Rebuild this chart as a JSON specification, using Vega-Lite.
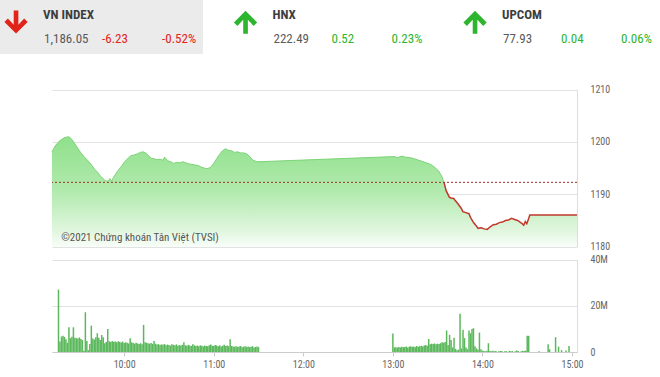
{
  "$schema": "https://vega.github.io/schema/vega-lite/v6.json",
  "width": 525,
  "height": 377,
  "autosize": "none",
  "padding": {"left": 52, "right": 83, "top": 0, "bottom": 0},
  "background": "white",
  "config": {"view": {"stroke": null}, "font": "Roboto Condensed, Liberation Sans Narrow, DejaVu Sans Condensed, Roboto"},
  "datasets": {
    "header": [
      {"market": "VN INDEX", "value": "1,186.05", "change": "-6.23", "pct": "-0.52%", "dir": "down"},
      {"market": "HNX", "value": "222.49", "change": "0.52", "pct": "0.23%", "dir": "up"},
      {"market": "UPCOM", "value": "77.93", "change": "0.04", "pct": "0.06%", "dir": "up"}
    ],
    "note": [{"text": "©2021 Chứng khoán Tân Việt (TVSI)", "minute": 561, "price": 1181.6}],
    "reference": [{"ref": 1192.28}],
    "price": [
      {"minute": 555, "price": 1198.1, "seg": "up"},
      {"minute": 557, "price": 1199.2, "seg": "up"},
      {"minute": 560, "price": 1200.2, "seg": "up"},
      {"minute": 563, "price": 1200.8, "seg": "up"},
      {"minute": 566, "price": 1201.0, "seg": "up"},
      {"minute": 568, "price": 1200.5, "seg": "up"},
      {"minute": 571, "price": 1199.2, "seg": "up"},
      {"minute": 574, "price": 1197.9, "seg": "up"},
      {"minute": 576, "price": 1197.2, "seg": "up"},
      {"minute": 579, "price": 1196.3, "seg": "up"},
      {"minute": 581, "price": 1195.6, "seg": "up"},
      {"minute": 583, "price": 1194.8, "seg": "up"},
      {"minute": 585, "price": 1194.2, "seg": "up"},
      {"minute": 587, "price": 1193.4, "seg": "up"},
      {"minute": 589, "price": 1192.9, "seg": "up"},
      {"minute": 590, "price": 1192.6, "seg": "up"},
      {"minute": 592, "price": 1192.5, "seg": "up"},
      {"minute": 593, "price": 1193.0, "seg": "up"},
      {"minute": 594, "price": 1192.5, "seg": "up"},
      {"minute": 596, "price": 1193.5, "seg": "up"},
      {"minute": 598, "price": 1194.4, "seg": "up"},
      {"minute": 600, "price": 1195.1, "seg": "up"},
      {"minute": 601, "price": 1195.5, "seg": "up"},
      {"minute": 603, "price": 1196.3, "seg": "up"},
      {"minute": 605, "price": 1196.9, "seg": "up"},
      {"minute": 607, "price": 1197.4, "seg": "up"},
      {"minute": 609, "price": 1197.5, "seg": "up"},
      {"minute": 611, "price": 1197.7, "seg": "up"},
      {"minute": 613, "price": 1198.0, "seg": "up"},
      {"minute": 615, "price": 1198.1, "seg": "up"},
      {"minute": 617, "price": 1197.8, "seg": "up"},
      {"minute": 618, "price": 1197.5, "seg": "up"},
      {"minute": 620, "price": 1196.9, "seg": "up"},
      {"minute": 622, "price": 1196.8, "seg": "up"},
      {"minute": 624, "price": 1196.6, "seg": "up"},
      {"minute": 626, "price": 1196.7, "seg": "up"},
      {"minute": 628, "price": 1196.5, "seg": "up"},
      {"minute": 629, "price": 1197.1, "seg": "up"},
      {"minute": 631, "price": 1196.4, "seg": "up"},
      {"minute": 633, "price": 1196.2, "seg": "up"},
      {"minute": 635, "price": 1195.9, "seg": "up"},
      {"minute": 637, "price": 1196.1, "seg": "up"},
      {"minute": 639, "price": 1196.0, "seg": "up"},
      {"minute": 641, "price": 1196.2, "seg": "up"},
      {"minute": 643, "price": 1196.0, "seg": "up"},
      {"minute": 645, "price": 1195.8, "seg": "up"},
      {"minute": 647, "price": 1195.7, "seg": "up"},
      {"minute": 649, "price": 1195.6, "seg": "up"},
      {"minute": 651, "price": 1195.5, "seg": "up"},
      {"minute": 653, "price": 1195.2, "seg": "up"},
      {"minute": 655, "price": 1195.0, "seg": "up"},
      {"minute": 657, "price": 1194.9, "seg": "up"},
      {"minute": 659, "price": 1195.1, "seg": "up"},
      {"minute": 661, "price": 1195.8, "seg": "up"},
      {"minute": 663, "price": 1196.7, "seg": "up"},
      {"minute": 665, "price": 1197.6, "seg": "up"},
      {"minute": 667, "price": 1198.3, "seg": "up"},
      {"minute": 669, "price": 1198.7, "seg": "up"},
      {"minute": 671, "price": 1198.4, "seg": "up"},
      {"minute": 673, "price": 1198.3, "seg": "up"},
      {"minute": 675, "price": 1198.0, "seg": "up"},
      {"minute": 677, "price": 1198.1, "seg": "up"},
      {"minute": 679, "price": 1197.9, "seg": "up"},
      {"minute": 681, "price": 1197.9, "seg": "up"},
      {"minute": 683, "price": 1197.7, "seg": "up"},
      {"minute": 685, "price": 1197.2, "seg": "up"},
      {"minute": 687, "price": 1196.5, "seg": "up"},
      {"minute": 690, "price": 1196.2, "seg": "up"},
      {"minute": 780, "price": 1197.2, "seg": "up"},
      {"minute": 782, "price": 1197.0, "seg": "up"},
      {"minute": 785, "price": 1197.3, "seg": "up"},
      {"minute": 787, "price": 1197.1, "seg": "up"},
      {"minute": 790, "price": 1197.0, "seg": "up"},
      {"minute": 793, "price": 1196.8, "seg": "up"},
      {"minute": 795, "price": 1196.6, "seg": "up"},
      {"minute": 798, "price": 1196.3, "seg": "up"},
      {"minute": 801, "price": 1196.0, "seg": "up"},
      {"minute": 803, "price": 1195.8, "seg": "up"},
      {"minute": 805, "price": 1195.5, "seg": "up"},
      {"minute": 807, "price": 1195.0, "seg": "up"},
      {"minute": 809, "price": 1194.5, "seg": "up"},
      {"minute": 811, "price": 1193.5, "seg": "up"},
      {"minute": 812.6, "price": 1192.28, "seg": "up"},
      {"minute": 812.6, "price": 1192.28, "seg": "down"},
      {"minute": 814, "price": 1190.7, "seg": "down"},
      {"minute": 816, "price": 1189.5, "seg": "down"},
      {"minute": 817, "price": 1189.3, "seg": "down"},
      {"minute": 819, "price": 1189.2, "seg": "down"},
      {"minute": 820, "price": 1188.8, "seg": "down"},
      {"minute": 822, "price": 1188.1, "seg": "down"},
      {"minute": 824, "price": 1187.3, "seg": "down"},
      {"minute": 825, "price": 1186.7, "seg": "down"},
      {"minute": 827, "price": 1186.5, "seg": "down"},
      {"minute": 829, "price": 1186.3, "seg": "down"},
      {"minute": 830, "price": 1185.6, "seg": "down"},
      {"minute": 832, "price": 1184.6, "seg": "down"},
      {"minute": 834, "price": 1183.9, "seg": "down"},
      {"minute": 835, "price": 1183.5, "seg": "down"},
      {"minute": 837, "price": 1183.6, "seg": "down"},
      {"minute": 839, "price": 1183.4, "seg": "down"},
      {"minute": 841, "price": 1183.3, "seg": "down"},
      {"minute": 843, "price": 1183.8, "seg": "down"},
      {"minute": 845, "price": 1184.2, "seg": "down"},
      {"minute": 847, "price": 1184.3, "seg": "down"},
      {"minute": 849, "price": 1184.6, "seg": "down"},
      {"minute": 851, "price": 1184.7, "seg": "down"},
      {"minute": 853, "price": 1185.0, "seg": "down"},
      {"minute": 855, "price": 1185.1, "seg": "down"},
      {"minute": 857, "price": 1185.4, "seg": "down"},
      {"minute": 859, "price": 1185.2, "seg": "down"},
      {"minute": 861, "price": 1185.0, "seg": "down"},
      {"minute": 863, "price": 1184.6, "seg": "down"},
      {"minute": 864, "price": 1184.4, "seg": "down"},
      {"minute": 865, "price": 1184.1, "seg": "down"},
      {"minute": 866, "price": 1184.8, "seg": "down"},
      {"minute": 867, "price": 1184.4, "seg": "down"},
      {"minute": 868, "price": 1185.2, "seg": "down"},
      {"minute": 869, "price": 1186.05, "seg": "down"},
      {"minute": 900, "price": 1186.05, "seg": "down"}
    ],
    "volume": [
      {"minute": 556, "vol": 27}, {"minute": 557, "vol": 4.5}, {"minute": 558, "vol": 6.7}, {"minute": 559, "vol": 7.0},
      {"minute": 560, "vol": 6.5}, {"minute": 561, "vol": 5.5}, {"minute": 562, "vol": 4.0}, {"minute": 563, "vol": 10.7},
      {"minute": 564, "vol": 6.0}, {"minute": 565, "vol": 6.6}, {"minute": 566, "vol": 10.7}, {"minute": 567, "vol": 6.2},
      {"minute": 568, "vol": 6.0}, {"minute": 569, "vol": 5.8}, {"minute": 570, "vol": 6.3}, {"minute": 571, "vol": 5.6},
      {"minute": 572, "vol": 5.2}, {"minute": 573, "vol": 0.5}, {"minute": 574, "vol": 17.2}, {"minute": 575, "vol": 4.8},
      {"minute": 576, "vol": 0.8}, {"minute": 577, "vol": 3.5}, {"minute": 578, "vol": 11.4}, {"minute": 579, "vol": 5.8},
      {"minute": 580, "vol": 5.4}, {"minute": 581, "vol": 6.4}, {"minute": 582, "vol": 8.1}, {"minute": 583, "vol": 6.2},
      {"minute": 584, "vol": 5.2}, {"minute": 585, "vol": 7.4}, {"minute": 586, "vol": 6.3}, {"minute": 587, "vol": 3.8},
      {"minute": 588, "vol": 4.4}, {"minute": 589, "vol": 10.0}, {"minute": 590, "vol": 4.6}, {"minute": 591, "vol": 4.3},
      {"minute": 592, "vol": 4.8}, {"minute": 593, "vol": 4.4}, {"minute": 594, "vol": 4.5}, {"minute": 595, "vol": 4.2},
      {"minute": 596, "vol": 4.6}, {"minute": 597, "vol": 4.4}, {"minute": 598, "vol": 4.1}, {"minute": 599, "vol": 4.5},
      {"minute": 600, "vol": 3.9}, {"minute": 601, "vol": 4.2}, {"minute": 602, "vol": 4.0}, {"minute": 603, "vol": 3.7},
      {"minute": 604, "vol": 6.0}, {"minute": 605, "vol": 4.2}, {"minute": 606, "vol": 3.9}, {"minute": 607, "vol": 3.6},
      {"minute": 608, "vol": 4.0}, {"minute": 609, "vol": 3.7}, {"minute": 610, "vol": 3.5}, {"minute": 611, "vol": 3.8},
      {"minute": 612, "vol": 3.4}, {"minute": 613, "vol": 11.7}, {"minute": 614, "vol": 4.2}, {"minute": 615, "vol": 4.0},
      {"minute": 616, "vol": 3.8}, {"minute": 617, "vol": 3.6}, {"minute": 618, "vol": 3.9}, {"minute": 619, "vol": 3.5},
      {"minute": 620, "vol": 4.8}, {"minute": 621, "vol": 3.6}, {"minute": 622, "vol": 3.2}, {"minute": 623, "vol": 3.4},
      {"minute": 624, "vol": 3.0}, {"minute": 625, "vol": 3.3}, {"minute": 626, "vol": 3.1}, {"minute": 627, "vol": 3.5},
      {"minute": 628, "vol": 2.9}, {"minute": 629, "vol": 3.2}, {"minute": 630, "vol": 3.0}, {"minute": 631, "vol": 2.8},
      {"minute": 632, "vol": 3.4}, {"minute": 633, "vol": 3.1}, {"minute": 634, "vol": 2.9}, {"minute": 635, "vol": 3.3},
      {"minute": 636, "vol": 2.7}, {"minute": 637, "vol": 3.0}, {"minute": 638, "vol": 2.8}, {"minute": 639, "vol": 3.1},
      {"minute": 640, "vol": 4.2}, {"minute": 641, "vol": 2.9}, {"minute": 642, "vol": 2.7}, {"minute": 643, "vol": 3.1},
      {"minute": 644, "vol": 2.8}, {"minute": 645, "vol": 2.6}, {"minute": 646, "vol": 3.3}, {"minute": 647, "vol": 2.9},
      {"minute": 648, "vol": 2.6}, {"minute": 649, "vol": 2.8}, {"minute": 650, "vol": 2.5}, {"minute": 651, "vol": 2.9},
      {"minute": 652, "vol": 2.7}, {"minute": 653, "vol": 2.4}, {"minute": 654, "vol": 2.8}, {"minute": 655, "vol": 2.6},
      {"minute": 656, "vol": 2.5}, {"minute": 657, "vol": 2.9}, {"minute": 658, "vol": 3.2}, {"minute": 659, "vol": 2.7},
      {"minute": 660, "vol": 2.6}, {"minute": 661, "vol": 3.0}, {"minute": 662, "vol": 2.8}, {"minute": 663, "vol": 2.5},
      {"minute": 664, "vol": 2.9}, {"minute": 665, "vol": 2.4}, {"minute": 666, "vol": 2.7}, {"minute": 667, "vol": 3.1},
      {"minute": 668, "vol": 2.6}, {"minute": 669, "vol": 2.8}, {"minute": 670, "vol": 2.5}, {"minute": 671, "vol": 5.5},
      {"minute": 672, "vol": 2.6}, {"minute": 673, "vol": 2.4}, {"minute": 674, "vol": 2.3}, {"minute": 675, "vol": 2.5},
      {"minute": 676, "vol": 2.2}, {"minute": 677, "vol": 2.4}, {"minute": 678, "vol": 2.6}, {"minute": 679, "vol": 2.1},
      {"minute": 680, "vol": 2.3}, {"minute": 681, "vol": 2.5}, {"minute": 682, "vol": 2.2}, {"minute": 683, "vol": 2.4},
      {"minute": 684, "vol": 2.1}, {"minute": 685, "vol": 2.3}, {"minute": 686, "vol": 2.5}, {"minute": 687, "vol": 2.0},
      {"minute": 688, "vol": 2.2}, {"minute": 689, "vol": 2.4}, {"minute": 690, "vol": 2.1},
      {"minute": 780, "vol": 8.0}, {"minute": 781, "vol": 2.0}, {"minute": 782, "vol": 2.1}, {"minute": 783, "vol": 1.9},
      {"minute": 784, "vol": 2.2}, {"minute": 785, "vol": 2.0}, {"minute": 786, "vol": 2.3}, {"minute": 787, "vol": 2.1},
      {"minute": 788, "vol": 2.2}, {"minute": 789, "vol": 2.4}, {"minute": 790, "vol": 2.0}, {"minute": 791, "vol": 2.3},
      {"minute": 792, "vol": 2.5}, {"minute": 793, "vol": 2.2}, {"minute": 794, "vol": 2.4}, {"minute": 795, "vol": 2.1},
      {"minute": 796, "vol": 2.6}, {"minute": 797, "vol": 2.3}, {"minute": 798, "vol": 2.5}, {"minute": 799, "vol": 2.7},
      {"minute": 800, "vol": 2.4}, {"minute": 801, "vol": 2.8}, {"minute": 802, "vol": 3.0}, {"minute": 803, "vol": 2.7},
      {"minute": 804, "vol": 5.6}, {"minute": 805, "vol": 3.4}, {"minute": 806, "vol": 3.6}, {"minute": 807, "vol": 3.5},
      {"minute": 808, "vol": 3.7}, {"minute": 809, "vol": 3.4}, {"minute": 810, "vol": 3.6}, {"minute": 811, "vol": 3.5},
      {"minute": 812, "vol": 3.8}, {"minute": 813, "vol": 4.2}, {"minute": 814, "vol": 4.0}, {"minute": 815, "vol": 4.3},
      {"minute": 816, "vol": 9.3}, {"minute": 817, "vol": 3.0}, {"minute": 818, "vol": 7.4}, {"minute": 819, "vol": 5.2},
      {"minute": 820, "vol": 2.0}, {"minute": 821, "vol": 6.2}, {"minute": 822, "vol": 1.4}, {"minute": 823, "vol": 0.8},
      {"minute": 824, "vol": 1.0}, {"minute": 825, "vol": 16.5}, {"minute": 826, "vol": 1.5}, {"minute": 827, "vol": 9.6},
      {"minute": 828, "vol": 6.0}, {"minute": 829, "vol": 2.0}, {"minute": 830, "vol": 1.2}, {"minute": 831, "vol": 9.3},
      {"minute": 832, "vol": 8.1}, {"minute": 833, "vol": 10.0}, {"minute": 834, "vol": 10.3}, {"minute": 835, "vol": 2.5},
      {"minute": 836, "vol": 1.6}, {"minute": 837, "vol": 1.0}, {"minute": 838, "vol": 8.4}, {"minute": 839, "vol": 1.2},
      {"minute": 840, "vol": 0.6}, {"minute": 841, "vol": 0.4}, {"minute": 842, "vol": 0.3}, {"minute": 843, "vol": 0.5},
      {"minute": 844, "vol": 3.8}, {"minute": 845, "vol": 0.4}, {"minute": 846, "vol": 0.3}, {"minute": 847, "vol": 0.5},
      {"minute": 848, "vol": 0.3}, {"minute": 849, "vol": 0.4}, {"minute": 851, "vol": 0.3}, {"minute": 852, "vol": 0.5},
      {"minute": 853, "vol": 0.4}, {"minute": 855, "vol": 0.3}, {"minute": 856, "vol": 0.4}, {"minute": 858, "vol": 0.5},
      {"minute": 859, "vol": 0.3}, {"minute": 860, "vol": 0.4}, {"minute": 862, "vol": 0.3}, {"minute": 863, "vol": 0.6},
      {"minute": 864, "vol": 0.4}, {"minute": 866, "vol": 0.3}, {"minute": 867, "vol": 0.5}, {"minute": 868, "vol": 0.4},
      {"minute": 869, "vol": 0.6}, {"minute": 870, "vol": 7.0}, {"minute": 871, "vol": 7.0}, {"minute": 878, "vol": 0.3},
      {"minute": 884, "vol": 3.3}, {"minute": 885, "vol": 1.2}, {"minute": 889, "vol": 6.4}, {"minute": 891, "vol": 2.3},
      {"minute": 893, "vol": 0.8}, {"minute": 896, "vol": 0.6}, {"minute": 898, "vol": 2.6}
    ]
  },
  "layer": [
    {
      "data": {"name": "header"},
      "transform": [{"filter": "datum.market == 'VN INDEX'"}],
      "mark": {"type": "rect", "color": "#ebebeb"},
      "encoding": {
        "x": {"field": "market", "type": "nominal", "scale": {"type": "band", "domain": ["VN INDEX", "HNX", "UPCOM"], "range": [-52, 610], "paddingInner": 0.1155, "paddingOuter": 0}, "axis": null},
        "y": {"datum": "bg", "type": "nominal", "scale": {"type": "band", "domain": ["bg"], "range": [0, 54], "paddingInner": 0, "paddingOuter": 0}, "axis": null}
      }
    },
    {
      "data": {"name": "header"},
      "layer": [
        {
          "mark": {"type": "point", "filled": true, "size": 540, "opacity": 1},
          "encoding": {
            "x": {"field": "market", "type": "nominal", "bandPosition": 0.079, "scale": {"type": "band", "domain": ["VN INDEX", "HNX", "UPCOM"], "range": [-52, 610], "paddingInner": 0.1155, "paddingOuter": 0}, "axis": null},
            "y": {"datum": "name", "type": "nominal", "bandPosition": 0.8, "scale": {"type": "band", "domain": ["name", "figures"], "range": [3, 51], "paddingInner": 0, "paddingOuter": 0}, "axis": null},
            "shape": {"field": "dir", "type": "nominal", "scale": {"domain": ["down", "up"], "range": ["M-0.2,-1L0.2,-1L0.2,0.22L0.7,-0.32L1,-0.02L0,0.98L-1,-0.02L-0.7,-0.32L-0.2,0.22Z", "M-0.2,1L0.2,1L0.2,-0.22L0.7,0.32L1,0.02L0,-0.98L-1,0.02L-0.7,0.32L-0.2,-0.22Z"]}, "legend": null},
            "color": {"field": "dir", "type": "nominal", "scale": {"domain": ["down", "up"], "range": ["#e2231a", "#2db52d"]}, "legend": null}
          }
        },
        {
          "mark": {"type": "text", "align": "left", "baseline": "middle", "fontSize": 13, "fontWeight": "bold", "color": "#3d3d3d"},
          "encoding": {
            "x": {"field": "market", "type": "nominal", "bandPosition": 0.2118, "scale": {"type": "band", "domain": ["VN INDEX", "HNX", "UPCOM"], "range": [-52, 610], "paddingInner": 0.1155, "paddingOuter": 0}, "axis": null},
            "y": {"datum": "name", "type": "nominal", "scale": {"type": "band", "domain": ["name", "figures"], "range": [3, 51], "paddingInner": 0, "paddingOuter": 0}, "axis": null},
            "text": {"field": "market"}
          }
        },
        {
          "mark": {"type": "text", "align": "left", "baseline": "middle", "fontSize": 13, "color": "#5a5a5a"},
          "encoding": {
            "x": {"field": "market", "type": "nominal", "bandPosition": 0.2167, "scale": {"type": "band", "domain": ["VN INDEX", "HNX", "UPCOM"], "range": [-52, 610], "paddingInner": 0.1155, "paddingOuter": 0}, "axis": null},
            "y": {"datum": "figures", "type": "nominal", "scale": {"type": "band", "domain": ["name", "figures"], "range": [3, 51], "paddingInner": 0, "paddingOuter": 0}, "axis": null},
            "text": {"field": "value"}
          }
        },
        {
          "mark": {"type": "text", "align": "left", "baseline": "middle", "fontSize": 13},
          "encoding": {
            "x": {"field": "market", "type": "nominal", "bandPosition": 0.5025, "scale": {"type": "band", "domain": ["VN INDEX", "HNX", "UPCOM"], "range": [-52, 610], "paddingInner": 0.1155, "paddingOuter": 0}, "axis": null},
            "y": {"datum": "figures", "type": "nominal", "scale": {"type": "band", "domain": ["name", "figures"], "range": [3, 51], "paddingInner": 0, "paddingOuter": 0}, "axis": null},
            "text": {"field": "change"},
            "color": {"field": "dir", "type": "nominal", "scale": {"domain": ["down", "up"], "range": ["#e2231a", "#2db52d"]}, "legend": null}
          }
        },
        {
          "mark": {"type": "text", "align": "left", "baseline": "middle", "fontSize": 13},
          "encoding": {
            "x": {"field": "market", "type": "nominal", "bandPosition": 0.798, "scale": {"type": "band", "domain": ["VN INDEX", "HNX", "UPCOM"], "range": [-52, 610], "paddingInner": 0.1155, "paddingOuter": 0}, "axis": null},
            "y": {"datum": "figures", "type": "nominal", "scale": {"type": "band", "domain": ["name", "figures"], "range": [3, 51], "paddingInner": 0, "paddingOuter": 0}, "axis": null},
            "text": {"field": "pct"},
            "color": {"field": "dir", "type": "nominal", "scale": {"domain": ["down", "up"], "range": ["#e2231a", "#2db52d"]}, "legend": null}
          }
        }
      ]
    },
    {
      "layer": [
        {
          "data": {"name": "price"},
          "mark": {"type": "area", "color": {"gradient": "linear", "x1": 0, "y1": 0, "x2": 0, "y2": 1, "stops": [{"offset": 0, "color": "#8fe08b"}, {"offset": 0.5, "color": "#b2eaae"}, {"offset": 0.85, "color": "#e0f6de"}, {"offset": 1, "color": "#f8fdf8"}]}},
          "encoding": {
            "x": {"field": "minute", "type": "quantitative", "scale": {"domain": [555, 900], "nice": false, "zero": false}, "axis": null},
            "y": {"field": "price", "type": "quantitative", "scale": {"domain": [1180, 1210], "range": [246.7, 89.5], "nice": false, "zero": false},
                  "axis": {"orient": "right", "values": [1180, 1190, 1200, 1210], "format": "d", "grid": true, "gridColor": "#e2e2e2", "domain": true, "domainColor": "#dddddd", "ticks": false, "labelPadding": 13, "labelColor": "#666666", "labelFontSize": 10, "title": null}},
            "y2": {"datum": 1180}
          }
        },
        {
          "data": {"name": "price"},
          "transform": [{"filter": "datum.seg == 'up'"}],
          "mark": {"type": "line", "color": "#7cd478", "strokeWidth": 1},
          "encoding": {
            "x": {"field": "minute", "type": "quantitative"},
            "y": {"field": "price", "type": "quantitative"}
          }
        },
        {
          "data": {"name": "price"},
          "transform": [{"filter": "datum.seg == 'down'"}],
          "mark": {"type": "line", "color": "#c0392b", "strokeWidth": 1.5},
          "encoding": {
            "x": {"field": "minute", "type": "quantitative"},
            "y": {"field": "price", "type": "quantitative"}
          }
        },
        {
          "data": {"name": "reference"},
          "mark": {"type": "rule", "color": "#9a3322", "strokeDash": [2, 2], "strokeWidth": 1},
          "encoding": {"y": {"field": "ref", "type": "quantitative"}}
        },
        {
          "data": {"name": "note"},
          "mark": {"type": "text", "align": "left", "baseline": "middle", "fontSize": 11, "color": "#555555"},
          "encoding": {
            "x": {"field": "minute", "type": "quantitative"},
            "y": {"field": "price", "type": "quantitative"},
            "text": {"field": "text"}
          }
        }
      ]
    },
    {
      "data": {"name": "volume"},
      "mark": {"type": "bar", "size": 1.5, "color": "#5cb85c"},
      "encoding": {
        "x": {"field": "minute", "type": "quantitative", "scale": {"domain": [555, 900], "nice": false, "zero": false},
              "axis": {"orient": "bottom", "values": [600, 660, 720, 780, 840, 900], "labelExpr": "floor(datum.value / 60) + ':00'", "offset": -25, "grid": false, "domainColor": "#cccccc", "tickColor": "#cccccc", "tickSize": 4, "labelColor": "#666666", "labelFontSize": 10, "labelPadding": 3, "labelFlush": false, "title": null}},
        "y": {"field": "vol", "type": "quantitative", "scale": {"domain": [0, 40], "range": [352, 259.5], "nice": false},
              "axis": {"orient": "right", "values": [0, 20, 40], "labelExpr": "datum.value == 0 ? '0' : datum.value + 'M'", "grid": true, "gridColor": "#e2e2e2", "domain": true, "domainColor": "#dddddd", "ticks": false, "labelPadding": 13, "labelColor": "#666666", "labelFontSize": 10, "title": null}}
      }
    }
  ],
  "resolve": {"scale": {"x": "independent", "y": "independent"}, "axis": {"x": "independent", "y": "independent"}}
}
